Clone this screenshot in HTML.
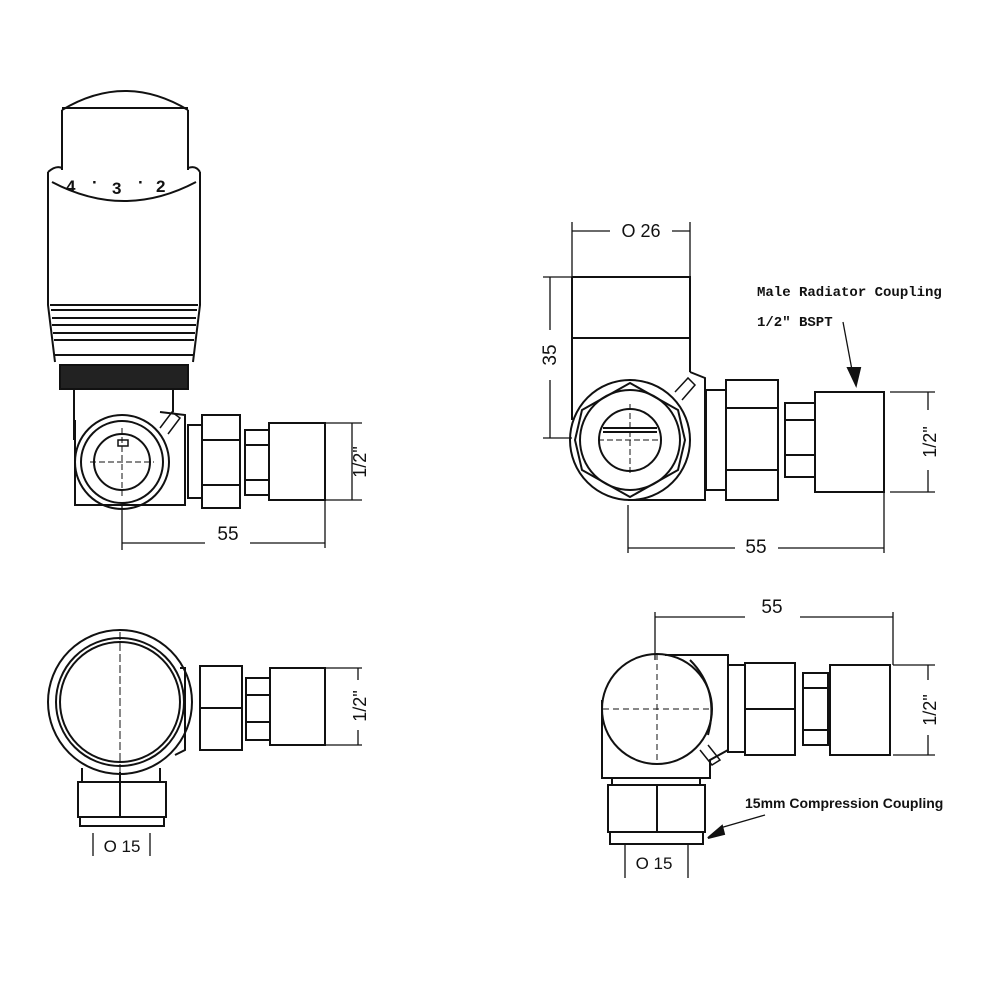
<!DOCTYPE html>
<html><head><meta charset="utf-8"><style>
html,body{margin:0;padding:0;background:#fff}
svg{display:block}
text{font-family:"Liberation Sans",sans-serif;fill:#111}
.m{font-family:"Liberation Mono",monospace;font-weight:bold;font-size:14px}
</style></head><body>
<svg width="1000" height="1000" viewBox="0 0 1000 1000" xmlns="http://www.w3.org/2000/svg">
<g fill="none" stroke="#111" stroke-width="2">
<!-- ===== TOP LEFT ===== -->
<path d="M62,110 Q125,72 188,110"/>
<path d="M62,110 L62,170 M188,110 L188,170 M62,108 L188,108"/>
<path d="M48,172 Q56,165 62,168 M188,168 Q196,165 200,172"/>
<path d="M48,172 L48,305 L55,362 M200,172 L200,305 L193,362"/>
<path d="M52,182 Q124,220 196,182"/>
<path d="M50,305 L198,305 M51,310 L197,310 M52,318 L196,318 M52,325 L196,325 M53,333 L195,333 M54,340 L194,340 M55,355 L193,355"/>
<rect x="60" y="365" width="128" height="24" fill="#222"/>
<path d="M74,389 L74,440 M173,389 L173,412"/>
<path d="M75,420 L75,505 L185,505 L185,415 L160,412"/>
<circle cx="122" cy="462" r="47"/>
<circle cx="122" cy="462" r="41"/>
<circle cx="122" cy="462" r="28"/>
<path d="M118,440 L128,440 L128,446 L118,446 Z" stroke-width="1.5"/>
<path d="M90,462 L154,462 M122,428 L122,496" stroke-width="1" stroke-dasharray="6,3"/>
<path d="M160,428 L172,412 L180,418 L168,434" stroke-width="1.5"/>
<rect x="188" y="425" width="14" height="73"/>
<rect x="202" y="415" width="38" height="93"/>
<path d="M202,440 L240,440 M202,485 L240,485"/>
<rect x="245" y="430" width="24" height="65"/>
<path d="M245,445 L269,445 M245,480 L269,480"/>
<rect x="269" y="423" width="56" height="77"/>
<g stroke-width="1.3">
<path d="M325,423 L362,423 M325,500 L362,500 M352,423 L352,500"/>
<path d="M122,505 L122,550 M325,500 L325,548 M122,543 L205,543 M250,543 L325,543"/>
<!-- ===== TOP RIGHT ===== -->
<path d="M572,222 L572,278 M690,222 L690,278 M572,231 L610,231 M672,231 L690,231"/>
<path d="M543,277 L572,277 M543,438 L572,438 M550,277 L550,330 M550,380 L550,438"/>
<path d="M890,392 L935,392 M890,492 L935,492 M928,392 L928,410 M928,470 L928,492"/>
<path d="M628,505 L628,553 M884,492 L884,553 M628,548 L735,548 M778,548 L884,548"/>
<path d="M843,322 L852,370"/>
</g>
<path d="M572,277 L690,277 L690,372 M572,277 L572,420 M572,338 L690,338"/>
<path d="M690,372 L705,378 L705,500 L628,500"/>
<circle cx="630" cy="440" r="60"/>
<polygon points="630,383 678,410 685,440 678,470 630,497 582,470 575,440 582,410"/>
<circle cx="630" cy="440" r="50"/>
<circle cx="630" cy="440" r="31"/>
<path d="M603,428 L657,428 M603,432 L657,432"/>
<path d="M598,440 L662,440 M630,404 L630,476" stroke-width="1" stroke-dasharray="6,3"/>
<path d="M675,392 L688,378 L695,385 L682,400" stroke-width="1.5"/>
<rect x="706" y="390" width="20" height="100"/>
<rect x="726" y="380" width="52" height="120"/>
<path d="M726,408 L778,408 M726,470 L778,470"/>
<rect x="785" y="403" width="30" height="74"/>
<path d="M785,420 L815,420 M785,455 L815,455"/>
<rect x="815" y="392" width="69" height="100"/>
<polygon points="848,368 860,368 856,385" fill="#111"/>
<!-- ===== BOTTOM LEFT ===== -->
<circle cx="120" cy="702" r="72"/>
<circle cx="120" cy="702" r="64"/>
<circle cx="120" cy="702" r="60"/>
<path d="M120,632 L120,772" stroke-width="1" stroke-dasharray="8,3"/>
<path d="M180,668 L185,668 L185,750 L175,755"/>
<rect x="200" y="666" width="42" height="84"/>
<path d="M200,708 L242,708"/>
<rect x="246" y="678" width="24" height="62"/>
<path d="M246,695 L270,695 M246,722 L270,722"/>
<rect x="270" y="668" width="55" height="77"/>
<path d="M82,768 L82,782 M160,768 L160,782"/>
<rect x="78" y="782" width="88" height="35"/>
<rect x="80" y="817" width="84" height="9"/>
<path d="M120,772 L120,817"/>
<g stroke-width="1.3">
<path d="M325,668 L362,668 M325,745 L362,745 M358,668 L358,680 M358,730 L358,745"/>
<path d="M93,833 L93,856 M150,833 L150,856"/>
<!-- ===== BOTTOM RIGHT ===== -->
<path d="M655,612 L655,660 M893,612 L893,665 M655,617 L745,617 M800,617 L893,617"/>
<path d="M893,665 L935,665 M893,755 L935,755 M928,665 L928,680 M928,735 L928,755"/>
<path d="M625,845 L625,878 M688,845 L688,878"/>
<path d="M720,828 L765,815"/>
</g>
<circle cx="657" cy="709" r="55"/>
<path d="M603,709 L712,709 M657,654 L657,764" stroke-width="1" stroke-dasharray="6,4"/>
<path d="M690,660 Q720,690 708,735"/>
<path d="M602,700 L602,778 L710,778 L710,760 L728,750 L728,655 L665,655"/>
<path d="M700,750 L712,765 L720,760 L708,745" stroke-width="1.5"/>
<rect x="728" y="665" width="17" height="87"/>
<rect x="745" y="663" width="50" height="92"/>
<path d="M745,709 L795,709"/>
<rect x="803" y="673" width="25" height="72"/>
<path d="M803,688 L828,688 M803,730 L828,730"/>
<rect x="830" y="665" width="60" height="90"/>
<path d="M612,778 L612,785 M700,778 L700,785"/>
<rect x="608" y="785" width="97" height="47"/>
<rect x="610" y="832" width="93" height="12"/>
<path d="M657,785 L657,832"/>
<polygon points="708,838 722,826 724,834" fill="#111"/>
</g>
<!-- text -->
<g font-size="16">
<text x="228" y="540" text-anchor="middle" font-size="19">55</text>
<text transform="translate(366,462) rotate(-90)" text-anchor="middle" font-size="18">1/2"</text>
<text x="641" y="237" text-anchor="middle" font-size="18">O 26</text>
<text transform="translate(556,355) rotate(-90)" text-anchor="middle" font-size="19">35</text>
<text transform="translate(936,442) rotate(-90)" text-anchor="middle" font-size="18">1/2"</text>
<text x="756" y="553" text-anchor="middle" font-size="19">55</text>
<text transform="translate(366,706) rotate(-90)" text-anchor="middle" font-size="18">1/2"</text>
<text x="122" y="852" text-anchor="middle" font-size="17">O 15</text>
<text x="772" y="613" text-anchor="middle" font-size="19">55</text>
<text transform="translate(936,710) rotate(-90)" text-anchor="middle" font-size="18">1/2"</text>
<text x="654" y="869" text-anchor="middle" font-size="17">O 15</text>
<text x="745" y="808" font-size="14" font-weight="bold">15mm Compression Coupling</text>
</g>
<text class="m" x="757" y="296">Male Radiator Coupling</text>
<text class="m" x="757" y="326">1/2" BSPT</text>
<g font-size="17" font-weight="bold">
<text x="66" y="192">4</text><text x="92" y="188">·</text>
<text x="112" y="194">3</text><text x="138" y="188">·</text>
<text x="156" y="192">2</text>
</g>
</svg>
</body></html>
